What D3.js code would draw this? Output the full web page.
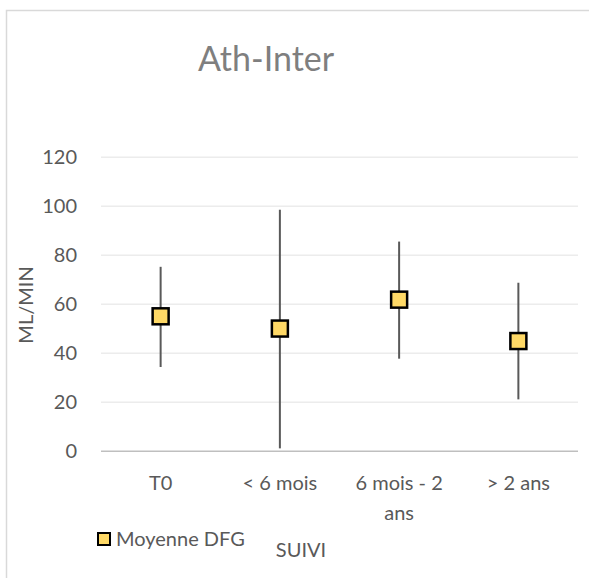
<!DOCTYPE html>
<html lang="fr">
<head>
<meta charset="UTF-8" />
<title>Ath-Inter</title>
<script src="https://d3js.org/d3.v7.min.js"></script>
<style>
  body { margin: 0; background: #fff; }
  svg text { font-family: Lato, "Open Sans", sans-serif; fill: #595959; }
</style>
</head>
<body>
<svg width="589" height="578"></svg>
<script>
  // données
  const categories = ["T0", "< 6 mois", "6 mois - 2 ans", "> 2 ans"];
  const tickLabels = [["T0"], ["< 6 mois"], ["6 mois - 2", "ans"], ["> 2 ans"]];
  const moyenne = [55.1, 50.1, 61.9, 45.0];
  const basse = [34.4, 1.2, 37.8, 21.2];
  const haute = [75.3, 98.6, 85.6, 68.8];
  const yTicks = [0, 20, 40, 60, 80, 100, 120];

  const svg = d3.select("svg");

  // cadre
  svg.append("rect")
    .attr("x", 6.5).attr("y", 10.5)
    .attr("width", 600).attr("height", 600)
    .attr("fill", "#fff").attr("stroke", "#d9d9d9").attr("stroke-width", 1.5);

  const x = d3.scaleBand().domain(categories).range([101, 578]);
  const y = d3.scaleLinear().domain([0, 120]).range([451.3, 157.3]);

  // grille
  svg.append("g").selectAll("line")
    .data(yTicks)
    .join("line")
    .attr("x1", 101).attr("x2", 578)
    .attr("y1", d => y(d)).attr("y2", d => y(d))
    .attr("stroke", d => d === 0 ? "#bfbfbf" : "#ececec")
    .attr("stroke-width", 1.5);

  // axe Y
  const yAxis = svg.append("g")
    .attr("transform", "translate(101,0)")
    .call(d3.axisLeft(y).tickValues(yTicks).tickSize(0).tickPadding(24));
  yAxis.select(".domain").remove();
  yAxis.selectAll("text").style("font-size", "20px").attr("fill", "#595959");

  // axe X
  const xAxis = svg.append("g")
    .attr("transform", `translate(0,${y(0)})`)
    .call(d3.axisBottom(x).tickSize(0).tickFormat(""));
  xAxis.select(".domain").remove();
  xAxis.selectAll(".tick").each(function (d, i) {
    const t = d3.select(this).append("text")
      .attr("text-anchor", "middle")
      .style("font-size", "20px")
      .attr("fill", "#595959");
    tickLabels[i].forEach((line, k) => {
      t.append("tspan").attr("x", 0).attr("y", 39 + k * 30).text(line);
    });
  });

  // barres d'erreur
  svg.append("g").selectAll("line")
    .data(categories)
    .join("line")
    .attr("x1", d => x(d) + x.bandwidth() / 2)
    .attr("x2", d => x(d) + x.bandwidth() / 2)
    .attr("y1", (d, i) => y(haute[i]))
    .attr("y2", (d, i) => y(basse[i]))
    .attr("stroke", "#595959")
    .attr("stroke-width", 2);

  // points
  const s = 16;
  svg.append("g").selectAll("rect")
    .data(categories)
    .join("rect")
    .attr("x", d => x(d) + x.bandwidth() / 2 - s / 2)
    .attr("y", (d, i) => y(moyenne[i]) - s / 2)
    .attr("width", s).attr("height", s)
    .attr("fill", "#ffd966")
    .attr("stroke", "#000")
    .attr("stroke-width", 2.5);

  // titre
  svg.append("text")
    .attr("x", 266).attr("y", 71)
    .attr("text-anchor", "middle")
    .style("font-size", "34px")
    .style("fill", "#7f7f7f")
    .text("Ath-Inter");

  // titres des axes
  svg.append("text")
    .attr("transform", "translate(33,305) rotate(-90)")
    .attr("text-anchor", "middle")
    .style("font-size", "20px")
    .text("ML/MIN");

  svg.append("text")
    .attr("x", 301).attr("y", 557)
    .attr("text-anchor", "middle")
    .style("font-size", "20px")
    .text("SUIVI");

  // légende
  svg.append("rect")
    .attr("x", 98).attr("y", 533)
    .attr("width", 12).attr("height", 12)
    .attr("fill", "#ffd966").attr("stroke", "#000").attr("stroke-width", 2);
  svg.append("text")
    .attr("x", 116).attr("y", 546)
    .style("font-size", "20px")
    .text("Moyenne DFG");
</script>
</body>
</html>
